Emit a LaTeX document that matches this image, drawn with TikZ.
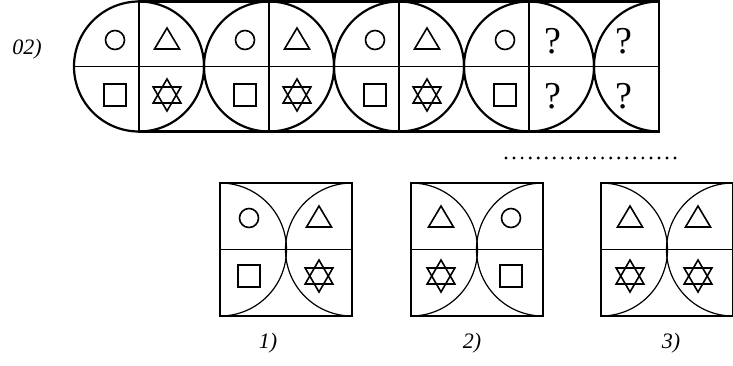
\documentclass[tikz,border=0pt]{standalone}
\usepackage{fontspec}
\setmainfont{Liberation Serif}
\usepackage{tikz}
\usetikzlibrary{positioning}

\begin{document}
\begin{tikzpicture}[
            x=1pt, y=1pt,
            frame/.style={line width=2.2pt},
            divide/.style={line width=1.8pt},
            thin divide/.style={line width=1.2pt},
            sym/.style={line width=1.6pt},
            lbl/.style={font=\fontsize{22}{26}\selectfont\itshape, inner sep=0pt},
            qmark/.style={font=\fontsize{38}{42}\selectfont, inner sep=0pt},
            symcirc/.pic={\draw[sym] (0,0) circle[radius=9.5];},
            symtri/.pic={\draw[sym] (-12.5,-9) -- (12.5,-9) -- (0,12) -- cycle;},
            symsq/.pic={\draw[sym] (-11,-11) rectangle (11,11);},
            symstar/.pic={\draw[sym] (90:16) -- (210:16) -- (330:16) -- cycle;
                          \draw[sym] (270:16) -- (30:16) -- (150:16) -- cycle;}
        ]
        \useasboundingbox (0,0) rectangle (733,-365);

        %% ── LIGNE DU HAUT : SÉRIE ──────────────────────────
        \node[lbl] (serie_lbl) at (27,-49) {02)};

        \draw[frame] (139,-1.5) rectangle (659,-131.5);
        \draw[divide] (74,-66.5) -- (659,-66.5);
        \foreach \c in {139,269,399,529}{
            \draw[divide] (\c,-1.5) -- (\c,-131.5);
            \draw[frame] (\c,-66.5) circle[radius=65];
        }
        \draw[frame] (659,-1.5) arc[start angle=90, end angle=270, radius=65];

        % symboles des trois cercles complets
        \foreach \c in {139,269,399}{
            \pic at (\c-24,-40) {symcirc};
            \pic at (\c+28,-40) {symtri};
            \pic at (\c-24,-95) {symsq};
            \pic at (\c+28,-95) {symstar};
        }
        \pic at (505,-40) {symcirc};
        \pic at (505,-95) {symsq};

        % cases inconnues
        \node[qmark] (q1) at (553,-41) {?};
        \node[qmark] (q2) at (624,-41) {?};
        \node[qmark] (q3) at (553,-96) {?};
        \node[qmark] (q4) at (624,-96) {?};

        % pointillés
        \foreach \i in {0,...,21}
            \fill (506+\i*8.05,-158) circle[radius=1.6];

        %% ── LIGNE DU BAS : RÉPONSES ─────────────────────────
        \foreach \L/\n in {220/1,411/2,601/3}{
            \draw[frame] (\L,-183) rectangle (\L+132,-316);
            \draw[thin divide] (\L,-249.5) -- (\L+132,-249.5);
            \draw[thin divide] (\L,-183) arc[start angle=90, end angle=-90, radius=66.5];
            \draw[thin divide] (\L+132,-183) arc[start angle=90, end angle=270, radius=66.5];
        }

        % réponse 1
        \pic at (249,-218) {symcirc};
        \pic at (319,-218) {symtri};
        \pic at (249,-276) {symsq};
        \pic at (319,-276) {symstar};
        % réponse 2
        \pic at (441,-218) {symtri};
        \pic at (511,-218) {symcirc};
        \pic at (441,-276) {symstar};
        \pic at (511,-276) {symsq};
        % réponse 3
        \pic at (630,-218) {symtri};
        \pic at (698,-218) {symtri};
        \pic at (630,-276) {symstar};
        \pic at (698,-276) {symstar};

        \node[lbl] (rep1) at (268,-343) {1)};
        \node[lbl] (rep2) at (472,-343) {2)};
        \node[lbl] (rep3) at (671,-343) {3)};

\end{tikzpicture}
\end{document}
